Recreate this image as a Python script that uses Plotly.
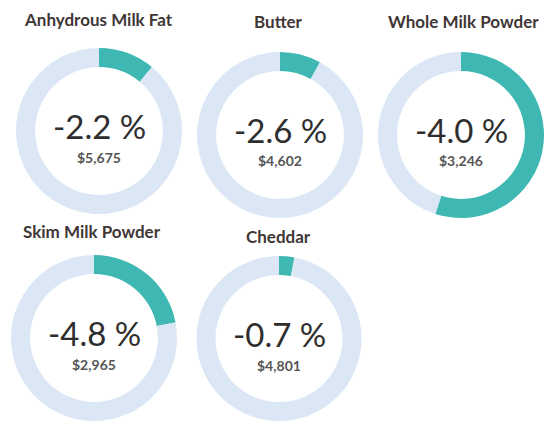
import plotly.graph_objects as go

W, H = 555, 421

products = ["Anhydrous Milk Fat", "Butter", "Whole Milk Powder", "Skim Milk Powder", "Cheddar"]
pct_change = [-2.2, -2.6, -4.0, -4.8, -0.7]
prices = ["$5,675", "$4,602", "$3,246", "$2,965", "$4,801"]
# share of the ring filled in teal
ring_share = [0.11, 0.08, 0.55, 0.22, 0.03]

# layout (pixels): donut centers, radius, title positions
centers = [(99, 131), (280, 135), (461, 135), (94, 338), (279, 339)]
radius = 83
title_pos = [(98, 19), (278, 22), (463, 22), (92, 232), (278, 236)]

TEAL = "#3fb8b3"
LIGHT = "#dce7f6"

fig = go.Figure()
for i, name in enumerate(products):
    cx, cy = centers[i]
    x0, x1 = (cx - radius) / W, (cx + radius) / W
    y0, y1 = 1 - (cy + radius) / H, 1 - (cy - radius) / H
    y0 = max(0, y0)
    fig.add_trace(go.Pie(
        values=[ring_share[i], 1 - ring_share[i]],
        labels=["change", "rest"],
        marker=dict(colors=[TEAL, LIGHT], line=dict(width=0)),
        hole=0.77,
        sort=False,
        direction="clockwise",
        rotation=0,
        textinfo="none",
        hoverinfo="skip",
        showlegend=False,
        domain=dict(x=[x0, x1], y=[y0, y1]),
    ))
    tx, ty = title_pos[i]
    fig.add_annotation(x=tx / W, y=1 - ty / H, xref="paper", yref="paper",
                       text=f"<b>{name}</b>", showarrow=False,
                       font=dict(family="Lato", size=17, color="#3f3636"),
                       xanchor="center", yanchor="middle")
    fig.add_annotation(x=cx / W, y=1 - (cy - 5) / H, xref="paper", yref="paper",
                       text=f"{pct_change[i]:.1f} %", showarrow=False,
                       font=dict(family="Lato", size=33, color="#2e2e2e"),
                       xanchor="center", yanchor="middle")
    fig.add_annotation(x=cx / W, y=1 - (cy + 26) / H, xref="paper", yref="paper",
                       text=f"<b>{prices[i]}</b>", showarrow=False,
                       font=dict(family="Lato", size=14, color="#555555"),
                       xanchor="center", yanchor="middle")

fig.update_layout(width=W, height=H, margin=dict(l=0, r=0, t=0, b=0),
                  paper_bgcolor="white", plot_bgcolor="white")
fig.write_html("out.html")
